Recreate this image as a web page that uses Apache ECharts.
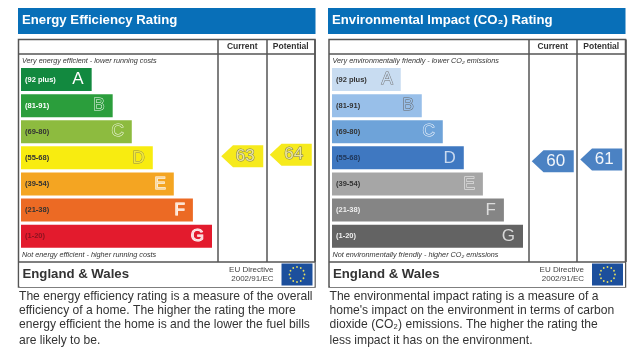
<!DOCTYPE html>
<html>
<head>
<meta charset="utf-8">
<style>
  html, body { margin: 0; padding: 0; background: #fff; }
  #chart { width: 640px; height: 355px; filter: blur(0.4px); }
</style>
</head>
<body>
<div id="chart"></div>
<script src="https://cdn.jsdelivr.net/npm/echarts@6/dist/echarts.min.js"></script>
<script>
// rating bands
var bandRanges = ['(92 plus)', '(81-91)', '(69-80)', '(55-68)', '(39-54)', '(21-38)', '(1-20)'];
var bandLetters = ['A', 'B', 'C', 'D', 'E', 'F', 'G'];
// bar length, G band = 100
var energyBars = [37, 48, 58, 69, 80, 90, 100];
var co2Bars = [36, 47, 58, 69, 79, 90, 100];
// current / potential ratings
var ratingColumns = ['Current', 'Potential'];
var energyRatings = [63, 64];
var co2Ratings = [60, 61];

var energyColors = ['#12893f', '#2b9e3c', '#8dbb3f', '#f8ec10', '#f4a522', '#ec6a24', '#e31b2d'];
var co2Colors = ['#c8dcf1', '#98bfe9', '#6ea3d9', '#3f78c1', '#a6a6a6', '#858585', '#636363'];
var energyRangeColors = ['#fff', '#fff', '#333', '#333', '#333', '#333', '#8c1420'];
var co2RangeColors = ['#333', '#333', '#333', '#1f3557', '#333', '#eee', '#eee'];
var energyLetterFill = ['#fff', '#2b9e3c', '#8dbb3f', '#f3e83a', '#f9d8a0', '#fde4d2', '#fbdcdc'];
var energyLetterEdge = ['#12893f', '#f2f8f2', '#f2f8e4', '#8f8c50', '#fff', '#fff', '#fff'];
var co2LetterFill = ['#c8dcf1', '#98bfe9', '#6ea3d9', '#c9d9ef', '#a6a6a6', '#dcdcdc', '#d8d8d8'];
var co2LetterEdge = ['#777', '#666', '#f4f8fd', '#3f78c1', '#f2f2f2', '#858585', '#636363'];

var arrowPath = 'path://M0 50 L28 0 L100 0 L100 100 L28 100 Z';

function bandSeries(axisIndex, values, colors, rangeColors, letterFill, letterEdge) {
  return [{
    type: 'bar',
    xAxisIndex: axisIndex,
    yAxisIndex: axisIndex,
    barWidth: 23,
    barGap: '-100%',
    silent: true,
    data: values.map(function (v, i) {
      return {
        value: v,
        itemStyle: { color: colors[i] },
        label: {
          show: true,
          position: 'insideLeft',
          distance: 4,
          formatter: bandRanges[i],
          color: rangeColors[i],
          fontFamily: 'Liberation Sans',
          fontWeight: 'bold',
          fontSize: 7.5
        }
      };
    })
  }, {
    // letter on a second, see-through bar
    type: 'bar',
    xAxisIndex: axisIndex,
    yAxisIndex: axisIndex,
    barWidth: 23,
    barGap: '-100%',
    silent: true,
    data: values.map(function (v, i) {
      return {
        value: v,
        itemStyle: { color: 'transparent' },
        label: {
          show: true,
          position: 'insideRight',
          distance: 8,
          formatter: bandLetters[i],
          color: letterFill[i],
          textBorderColor: letterEdge[i],
          textBorderWidth: 1,
          fontFamily: 'Liberation Sans',
          fontSize: 17
        }
      };
    })
  }];
}

function ratingSeries(axisIndex, values, color, textColor, textEdge) {
  return {
    type: 'scatter',
    xAxisIndex: axisIndex,
    yAxisIndex: axisIndex,
    symbol: arrowPath,
    symbolSize: [42, 22],
    silent: true,
    itemStyle: { color: color, opacity: 1 },
    label: {
      show: true,
      position: 'inside',
      offset: [3, 0],
      formatter: function (p) { return p.value[1]; },
      color: textColor,
      textBorderColor: textEdge,
      textBorderWidth: textEdge === 'none' ? 0 : 1,
      fontFamily: 'Liberation Sans',
      fontSize: 17
    },
    data: values.map(function (v, i) { return [i, v]; })
  };
}

function hiddenValueAxis(gridIndex) {
  return { type: 'value', gridIndex: gridIndex, min: 0, max: 100, show: false };
}
function hiddenBandAxis(gridIndex) {
  return { type: 'category', gridIndex: gridIndex, data: bandLetters, inverse: true, show: false };
}
function columnAxis(gridIndex) {
  return {
    type: 'category',
    gridIndex: gridIndex,
    data: ratingColumns,
    position: 'top',
    axisLine: { show: false },
    axisTick: { show: false },
    splitLine: { show: true, lineStyle: { color: '#555', width: 1.5 } },
    axisLabel: {
      inside: true,
      margin: 3,
      interval: 0,
      color: '#333',
      fontFamily: 'Liberation Sans',
      fontWeight: 'bold',
      fontSize: 8.5,
      verticalAlign: 'top'
    }
  };
}
function ratingAxis(gridIndex) {
  return { type: 'value', gridIndex: gridIndex, min: -3, max: 136, show: false };
}

// EU flag: blue box with a ring of stars
function euFlag(x, y) {
  var parts = [{ type: 'rect', shape: { x: x, y: y, width: 31, height: 22 }, style: { fill: '#1c4f9c' } }];
  for (var i = 0; i < 12; i++) {
    var a = i * Math.PI / 6;
    parts.push({
      type: 'circle',
      shape: { cx: x + 15.5 + Math.cos(a) * 7.5, cy: y + 11 + Math.sin(a) * 7.5, r: 0.9 },
      style: { fill: '#e8e060' }
    });
  }
  return parts;
}

function panel(x, boxX, title, topNote, bottomNote, lines) {
  var items = [
    { type: 'rect', z: 1, shape: { x: x, y: 8, width: 297.5, height: 26 }, style: { fill: '#086fb8' } },
    { type: 'text', z: 2, x: x + 4, y: 20, style: { text: title, fill: '#fff', font: 'bold 13.2px "Liberation Sans"', textVerticalAlign: 'middle' } },
    { type: 'rect', z: 3, shape: { x: boxX, y: 39.5, width: 296.5, height: 247.5 }, style: { fill: 'none', stroke: '#555', lineWidth: 1.5 } },
    { type: 'line', z: 3, shape: { x1: boxX, y1: 54, x2: boxX + 296.5, y2: 54 }, style: { stroke: '#555', lineWidth: 1.5 } },
    { type: 'rect', z: 4, shape: { x: boxX + 1, y: 262, width: 295, height: 25 }, style: { fill: '#fff' } },
    { type: 'line', z: 5, shape: { x1: boxX, y1: 262, x2: boxX + 296.5, y2: 262 }, style: { stroke: '#555', lineWidth: 1.5 } },
    { type: 'text', z: 5, x: boxX + 3.5, y: 61, style: { text: topNote, fill: '#333', font: 'italic 7.25px "Liberation Sans"', textVerticalAlign: 'middle' } },
    { type: 'text', z: 5, x: boxX + 3.5, y: 254.5, style: { text: bottomNote, fill: '#333', font: 'italic 7.25px "Liberation Sans"', textVerticalAlign: 'middle' } },
    { type: 'text', z: 5, x: boxX + 4, y: 274, style: { text: 'England & Wales', fill: '#333', font: 'bold 13.2px "Liberation Sans"', textVerticalAlign: 'middle' } },
    { type: 'text', z: 5, x: boxX + 255, y: 270, style: { text: 'EU Directive', fill: '#444', font: '8px "Liberation Sans"', textAlign: 'right', textVerticalAlign: 'middle' } },
    { type: 'text', z: 5, x: boxX + 255, y: 279, style: { text: '2002/91/EC', fill: '#444', font: '8px "Liberation Sans"', textAlign: 'right', textVerticalAlign: 'middle' } }
  ];
  euFlag(boxX + 263, 263.5).forEach(function (p) { p.z = 5; items.push(p); });
  var lineY = [297, 311, 325, 341];
  lines.forEach(function (t, i) {
    items.push({ type: 'text', z: 5, x: boxX + 0.5, y: lineY[i], style: { text: t, fill: '#333', font: '12.1px "Liberation Sans"', textVerticalAlign: 'middle' } });
  });
  return items;
}

var chart = echarts.init(document.getElementById('chart'), null, { renderer: 'canvas' });
chart.setOption({
  animation: false,
  backgroundColor: '#fff',
  grid: [
    { left: 21, top: 66.5, width: 191, height: 182.7 },
    { left: 218, top: 39.5, width: 97, height: 222.5 },
    { left: 332, top: 66.5, width: 191, height: 182.7 },
    { left: 528.5, top: 39.5, width: 97, height: 222.5 }
  ],
  xAxis: [hiddenValueAxis(0), columnAxis(1), hiddenValueAxis(2), columnAxis(3)],
  yAxis: [hiddenBandAxis(0), ratingAxis(1), hiddenBandAxis(2), ratingAxis(3)],
  series: [].concat(
    bandSeries(0, energyBars, energyColors, energyRangeColors, energyLetterFill, energyLetterEdge),
    [ratingSeries(1, energyRatings, '#f6ea1c', '#ece69a', '#77775a')],
    bandSeries(2, co2Bars, co2Colors, co2RangeColors, co2LetterFill, co2LetterEdge),
    [ratingSeries(3, co2Ratings, '#4b82c3', '#f2f6fb', 'none')]
  ),
  graphic: panel(18, 18.5, 'Energy Efficiency Rating',
    'Very energy efficient - lower running costs',
    'Not energy efficient - higher running costs',
    ['The energy efficiency rating is a measure of the overall',
     'efficiency of a home. The higher the rating the more',
     'energy efficient the home is and the lower the fuel bills',
     'are likely to be.']
  ).concat(panel(328, 329, 'Environmental Impact (CO\u2082) Rating',
    'Very environmentally friendly - lower CO\u2082 emissions',
    'Not environmentally friendly - higher CO\u2082 emissions',
    ['The environmental impact rating is a measure of a',
     "home's impact on the environment in terms of carbon",
     'dioxide (CO\u2082) emissions. The higher the rating the',
     'less impact it has on the environment.']
  ))
});
</script>
</body>
</html>
